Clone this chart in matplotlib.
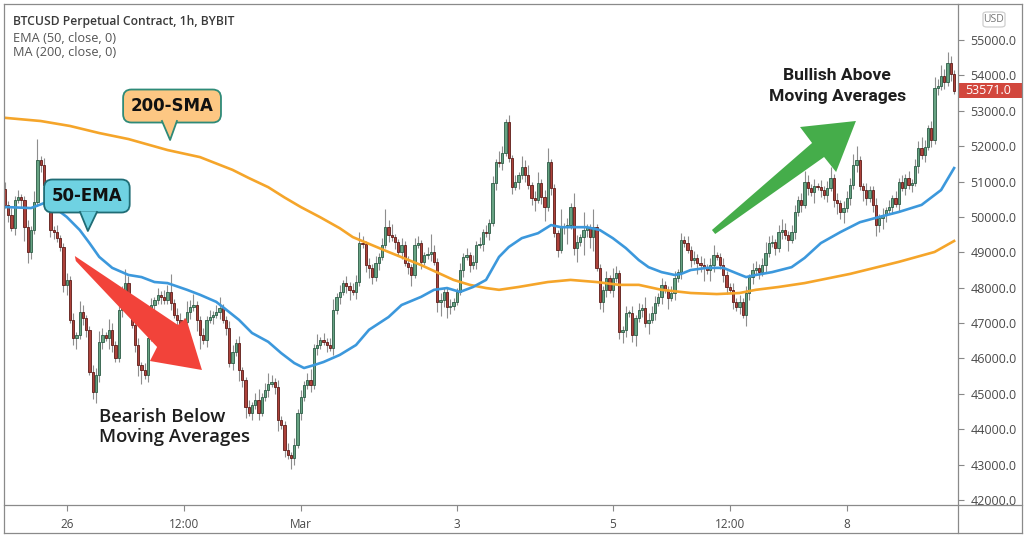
import matplotlib.pyplot as plt
import numpy as np
import pandas as pd
from matplotlib.patches import Polygon, FancyBboxPatch, Rectangle
from matplotlib.lines import Line2D
from matplotlib.transforms import blended_transform_factory

plt.rcParams['font.family'] = ['Open Sans', 'DejaVu Sans']

# hourly closes, BTCUSD perpetual (BYBIT), from 2021-02-25 05:00
closes = [
    50340, 50050, 49690, 50480, 50560, 50480, 49710, 49010, 49630, 50420,
    51610, 51470, 50900, 50620, 49630, 49570, 49400, 49150, 48080, 48220,
    47090, 46580, 46660, 47310, 47140, 46810, 45620, 45050, 45530, 46470,
    46660, 46580, 46810, 46380, 46010, 47370, 47940, 48130, 47650, 46950,
    46380, 45810, 45670, 45530, 46580, 47510, 47650, 47800,
    47740, 47650, 47880, 47570, 47230, 47090, 46810, 47030, 47310, 47450,
    47510, 47090, 46660, 46520, 47090, 47170, 47230, 47310, 47430, 47090,
    46860, 45870, 46180, 46440, 45670, 45390, 44630, 44460, 44680, 44830,
    44460, 44910, 45110, 45280, 45340, 45190, 44260, 44120, 43410, 43270,
    43180, 43560, 44460, 44910, 45250, 45390, 45250, 46300, 46380, 46520,
    46470, 46380, 46300,
    47370, 47740, 47880, 48130, 48050, 47940, 47880, 48160, 49260, 49230,
    48640, 48560, 48300, 48700, 48870, 49210, 49710, 49490, 49430, 49290,
    49010, 49210, 48700, 48580, 48360, 49210, 49260, 48730, 48920, 48950,
    49010, 48730, 47600, 47650, 47880, 47450, 47480, 47600, 47880, 48500,
    48870, 48920, 48640, 48730, 49210, 49230, 49570,
    49540, 49830, 50960, 51550, 51520, 51810, 52680, 51660, 50850, 50990,
    51180, 51410, 51180, 50900, 50530, 50480, 50960, 50560, 50280, 51550,
    50820, 49540, 49070, 49710, 49740, 49770, 50280, 49120, 49290, 49430,
    49630, 49710, 49430, 49710, 48560, 47600, 47940, 48270, 47940, 48270,
    48410, 46750, 46810, 47280, 47280, 46660, 47140, 47370,
    47430, 47000, 47090, 47280, 47570, 47740, 48080, 47940, 47710, 47850,
    48270, 48440, 49350, 49260, 49070, 48780, 48840, 48700, 48640, 48580,
    48500, 48640, 48920, 48870, 48640, 48360, 48020, 47940, 47600, 47450,
    47600, 47230, 47850, 48300, 48500, 48560, 48440, 48640, 48980, 49260,
    49290, 49120, 49570, 49630, 49490, 49350, 49570, 50140, 50480,
    50340, 50990, 50820, 50700, 50870, 50850, 50760, 50620, 50820, 51100,
    50480, 50390, 50140, 50250, 50530, 50900, 51470, 51610, 50870, 50760,
    50530, 50760, 50340, 49770, 49970, 50050, 50190, 50280, 50530, 50370,
    50990, 50820, 51100, 50900, 50960, 51440, 51950, 51750, 51980, 52510,
    52170, 53640, 53700, 53980, 53810, 54350, 54040, 53571,
]
first_open = 50780
# wick lengths beyond the body, in hundreds of USD, one digit per candle
upper_wick = ("2121211213 6121112112 1213211223 2132121421 1212121212 "
              "2512213231 1212123112 2121121231 2321211212 1212313121 "
              "2312121223 2121212523 1121212211 2521211211 2121212121 "
              "2132121213 2312312411 1512142151 1511121321 1212121322 "
              "2121122121 2121221231 1211212121 2212322123 2122123212 "
              "1212312122 2341121121 2121212121 2232123232 321")
lower_wick = ("1212124321 1213221123 1231221232 2132112121 2341212121 "
              "1212121213 4121212121 2132312121 1212312132 1211212112 "
              "1212123121 1232121121 2121231121 1213423211 1212121212 "
              "1212112121 2123124121 2125124152 3412321212 3212312131 "
              "2121312121 1213241321 1221212132 2121211212 1312121213 "
              "1212123231 2121321232 3212121212 1212121212 121")

ema_bars = [0, 8, 12, 15, 19, 23, 26, 29, 33, 38, 42, 46, 50, 56, 60, 65, 69, 72, 76, 81,
            85, 89, 92, 95, 98, 103, 108, 112, 118, 122, 128, 132, 136, 140, 144, 148, 152, 155, 159, 164,
            168, 171, 175, 179, 183, 187, 191, 195, 198, 202, 206, 208, 211, 216, 221, 225, 228, 231, 236, 242,
            246, 251, 257, 263, 269, 275, 282, 288, 292]
ema_vals = [50280, 50250, 50390, 50280, 50000, 49630, 49260, 48870, 48560, 48360,
            48300, 48160, 48130, 47940, 47800, 47600, 47310, 47090, 46720, 46470,
            46150, 45870, 45730, 45810, 45900, 46100, 46380, 46810, 47170, 47510,
            47740, 47940, 47990, 47880, 48020, 48220, 48870, 49150, 49400, 49540,
            49770, 49710, 49710, 49710, 49630, 49400, 49120, 48780, 48580, 48440,
            48360, 48390, 48500, 48560, 48560, 48410, 48300, 48360, 48440, 48580,
            48840, 49260, 49570, 49850, 50000, 50140, 50340, 50760, 51380]
sma_bars = [0, 11, 20, 29, 38, 50, 60, 70, 75, 81, 86, 91, 97, 103, 107, 118, 128, 138, 143, 148,
            152, 158, 167, 174, 182, 189, 195, 202, 211, 219, 226, 231, 238, 246, 260, 275, 286, 292]
sma_vals = [52800, 52710, 52570, 52370, 52200, 51890, 51690, 51330, 51100, 50840,
            50550, 50280, 49990, 49680, 49430, 49010, 48640, 48220, 48080, 47990,
            47940, 48020, 48160, 48220, 48160, 48080, 48080, 47940, 47850, 47820,
            47850, 47940, 48020, 48130, 48390, 48730, 49010, 49320]

start_time = '2021-02-25 05:00'
tick_times = ['2021-02-26 00:00', '2021-02-27 12:00', '2021-03-01 00:00', '2021-03-03 00:00',
              '2021-03-05 00:00', '2021-03-06 12:00', '2021-03-08 00:00']
tick_labels = ['26', '12:00', 'Mar', '3', '5', '12:00', '8']
price_ticks = list(range(42000, 55001, 1000))
last_price = 53571.0

W, H = 1024, 536
def fx(px):
    return px / W
def fy(py):
    return 1 - py / H

fig = plt.figure(figsize=(W / 100, H / 100), dpi=100)
ax = fig.add_axes([fx(4), fy(505), (958 - 4) / W, (505 - 4) / H])

c = np.array(closes, dtype=float)
o = np.concatenate([[first_open], c[:-1]])
uw = np.array([int(ch) for ch in upper_wick.replace(' ', '')]) * 100
lw_ = np.array([int(ch) for ch in lower_wick.replace(' ', '')]) * 100
hi = np.maximum(o, c) + uw
lo = np.minimum(o, c) - lw_
x = np.arange(len(c))
up = c >= o

ax.vlines(x, lo, hi, color='#8e8e8e', lw=0.8, zorder=2)
bot = np.minimum(o, c)
hgt = np.maximum(np.abs(c - o), 30)
ax.bar(x[up], hgt[up], bottom=bot[up], width=0.7, color='#67a383', edgecolor='#2c5b45', lw=0.6, zorder=3)
ax.bar(x[~up], hgt[~up], bottom=bot[~up], width=0.7, color='#ad423b', edgecolor='#5c1b17', lw=0.6, zorder=3)

ax.plot(sma_bars, sma_vals, color='#f5a52a', lw=1.9, zorder=4, solid_joinstyle='round')
ax.plot(ema_bars, ema_vals, color='#3c98dc', lw=1.9, zorder=4, solid_joinstyle='round')

ax.set_xlim(-0.3, 293.2)
ax.set_ylim(41859, 56017)

times = pd.date_range(start_time, periods=len(c), freq='h')
tick_pos = [times.get_loc(pd.Timestamp(t)) for t in tick_times]
ax.set_xticks(tick_pos)
ax.set_xticklabels(tick_labels)
ax.yaxis.tick_right()
ax.set_yticks(price_ticks)
ax.set_yticklabels([f'{v:.1f}' for v in price_ticks])
ax.tick_params(axis='y', length=4, pad=5, color='#888888', labelcolor='#4a4a4a', labelsize=9)
ax.tick_params(axis='x', length=4, pad=5, color='#888888', labelcolor='#4a4a4a', labelsize=8.5)
for s in ax.spines.values():
    s.set_visible(False)

# frame lines
frame = '#8a8a8a'
for (x0, y0, x1, y1) in [(4, 4, 1022, 4), (4, 533, 1022, 533), (4, 4, 4, 533), (1022, 4, 1022, 533),
                         (958, 4, 958, 533), (4, 505, 1022, 505)]:
    fig.add_artist(Line2D([fx(x0), fx(x1)], [fy(y0), fy(y1)], color=frame, lw=0.9))

# header
fig.text(fx(13), fy(21), 'BTCUSD Perpetual Contract, 1h, BYBIT', fontsize=8.7, fontweight='semibold',
         color='#3a3a3a', va='center')
fig.text(fx(13), fy(38), 'EMA (50, close, 0)', fontsize=9.2, color='#555555', va='center')
fig.text(fx(13), fy(53), 'MA (200, close, 0)', fontsize=9.2, color='#555555', va='center')

# USD box
fig.add_artist(FancyBboxPatch((fx(983), fy(27)), fx(22), 15 / H, boxstyle='round,pad=0,rounding_size=0.004',
                              transform=fig.transFigure, fc='white', ec='#cfcfcf', lw=0.9))
fig.text(fx(994), fy(19.5), 'USD', fontsize=7.5, color='#777777', ha='center', va='center')

# last price label
bt = blended_transform_factory(ax.transAxes, ax.transData)
ax.add_patch(Rectangle((1.0, last_price - 220), 64 / 954, 440, transform=bt, clip_on=False,
                       fc='#d2473d', ec='none', zorder=10))
ax.text(1.0 + 7 / 954, last_price, f'{last_price:.1f}', transform=bt, color='white', fontsize=9,
        va='center', ha='left', zorder=11, clip_on=False)

# arrows
red_arrow = [(21.5, 48895), (53.2, 46946), (55.7, 47143), (60.6, 45674), (44.6, 45928), (46.8, 46324), (21.8, 48754)]
ax.add_patch(Polygon(red_arrow, closed=True, fc='#f2433a', ec='none', zorder=6))
green_arrow = [(218.5, 49517), (252.0, 51693), (255.7, 51269), (261.8, 52711), (244.6, 52541), (248.3, 52089), (217.5, 49630)]
ax.add_patch(Polygon(green_arrow, closed=True, fc='#45ad4a', ec='none', zorder=6))

# callout boxes
def callout(xc, yc, label, fc, ec, tri):
    ax.text(xc, yc, label, ha='center', va='center', fontsize=12, fontweight='bold', family='DejaVu Sans',
            color='#111111', zorder=7,
            bbox=dict(boxstyle='round,pad=0.45,rounding_size=0.5', fc=fc, ec=ec, lw=1.3))
    ax.add_patch(Polygon(tri, closed=True, fc=fc, ec='none', zorder=8))
    ax.add_line(Line2D([tri[0][0], tri[1][0], tri[2][0]], [tri[0][1], tri[1][1], tri[2][1]],
                       color=ec, lw=1.3, zorder=9))

callout(51.4, 53134, '200-SMA', '#fdc783', '#2e8a78', [(48.3, 52711), (50.8, 52174), (52.9, 52711)])
callout(25.2, 50591, '50-EMA', '#6fd2e2', '#1f6c75', [(23.1, 50139), (25.5, 49602), (28.3, 50139)])

ax.text(28.9, 44060, 'Bearish Below\nMoving Averages', fontsize=13.3, fontweight='semibold', color='#1e1e1e',
        ha='left', va='center', linespacing=1.15, zorder=7)
ax.text(256, 53700, 'Bullish Above\nMoving Averages', fontsize=12.6, fontweight='bold', family='Roboto',
        color='#1e1e1e', ha='center', va='center', linespacing=1.45, zorder=7)

fig.savefig('out.png', dpi=100)
